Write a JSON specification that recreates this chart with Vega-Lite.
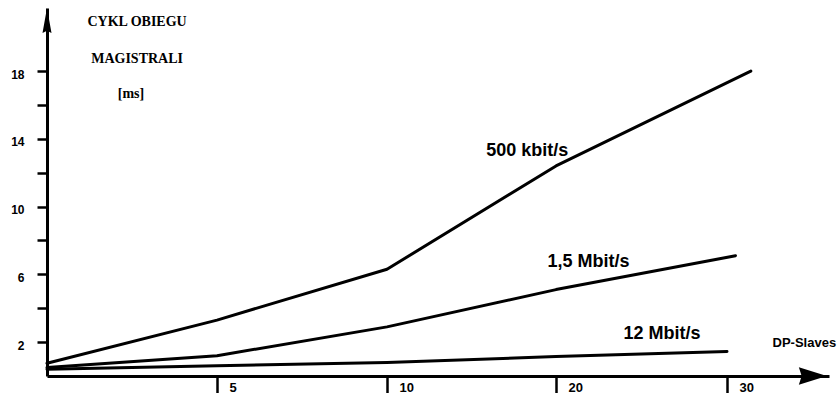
{
  "$schema": "https://vega.github.io/schema/vega-lite/v6.json",
  "width": 783,
  "height": 368,
  "autosize": {"type": "none"},
  "padding": {"left": 47, "top": 8, "right": 8, "bottom": 17},
  "background": "white",
  "config": {"view": {"stroke": null}},
  "datasets": {
    "lines": [
      {"n": 0, "t": 0.75, "series": "500 kbit/s"},
      {"n": 5, "t": 3.3, "series": "500 kbit/s"},
      {"n": 10, "t": 6.3, "series": "500 kbit/s"},
      {"n": 20, "t": 12.4, "series": "500 kbit/s"},
      {"n": 31.4, "t": 18.0, "series": "500 kbit/s"},
      {"n": 0, "t": 0.5, "series": "1,5 Mbit/s"},
      {"n": 5, "t": 1.2, "series": "1,5 Mbit/s"},
      {"n": 10, "t": 2.9, "series": "1,5 Mbit/s"},
      {"n": 20, "t": 5.1, "series": "1,5 Mbit/s"},
      {"n": 30.5, "t": 7.1, "series": "1,5 Mbit/s"},
      {"n": 0, "t": 0.4, "series": "12 Mbit/s"},
      {"n": 5, "t": 0.6, "series": "12 Mbit/s"},
      {"n": 10, "t": 0.8, "series": "12 Mbit/s"},
      {"n": 20, "t": 1.15, "series": "12 Mbit/s"},
      {"n": 30, "t": 1.45, "series": "12 Mbit/s"}
    ],
    "arrows": [
      {"n": 0, "t": 20.98, "dir": "up"},
      {"n": 35.05, "t": 0, "dir": "right"}
    ],
    "notes": [
      {"n": 2.65, "t": 20.9, "text": "CYKL OBIEGU", "role": "title"},
      {"n": 2.65, "t": 18.7, "text": "MAGISTRALI", "role": "title"},
      {"n": 2.47, "t": 16.65, "text": "[ms]", "role": "unit"},
      {"n": 18.3, "t": 13.3, "text": "500 kbit/s", "role": "series"},
      {"n": 21.9, "t": 6.7, "text": "1,5 Mbit/s", "role": "series"},
      {"n": 26.2, "t": 2.5, "text": "12 Mbit/s", "role": "series"},
      {"n": 34.55, "t": 1.95, "text": "DP-Slaves", "role": "axis"}
    ]
  },
  "layer": [
    {
      "data": {"name": "lines"},
      "mark": {"type": "line", "color": "black", "strokeCap": "round", "strokeJoin": "round"},
      "encoding": {
        "x": {
          "field": "n", "type": "quantitative",
          "scale": {"domain": [0, 5, 10, 20, 30, 36], "range": [0, 170, 340, 509, 680, 782], "nice": false, "zero": false},
          "axis": {
            "values": [5, 10, 20, 30], "title": null, "grid": false,
            "tickSize": 18, "tickWidth": 2.5, "tickColor": "black", "tickCap": "round",
            "domainColor": "black", "domainWidth": 3,
            "labelAlign": "left", "labelBaseline": "middle", "labelPadding": -7, "labelOffset": 12,
            "labelFont": "Liberation Sans", "labelFontWeight": "bold", "labelFontSize": 13, "labelColor": "black"
          }
        },
        "y": {
          "field": "t", "type": "quantitative",
          "scale": {"domain": [0, 21.72], "nice": false, "zero": false},
          "axis": {
            "values": [2, 4, 6, 8, 10, 12, 14, 16, 18], "title": null, "grid": false,
            "labelExpr": "datum.value % 4 == 2 ? datum.label : ''",
            "tickSize": 10, "tickWidth": 2.5, "tickColor": "black",
            "domainColor": "black", "domainWidth": 3,
            "labelPadding": 13, "labelOffset": 3,
            "labelFont": "Liberation Sans", "labelFontWeight": "bold", "labelFontSize": 12, "labelColor": "black"
          }
        },
        "detail": {"field": "series"},
        "strokeWidth": {
          "field": "series",
          "scale": {"domain": ["500 kbit/s", "1,5 Mbit/s", "12 Mbit/s"], "range": [3, 3, 2.2]},
          "legend": null
        }
      }
    },
    {
      "data": {"name": "arrows"},
      "mark": {"type": "point", "filled": true, "color": "black", "opacity": 1},
      "encoding": {
        "x": {"field": "n", "type": "quantitative"},
        "y": {"field": "t", "type": "quantitative"},
        "shape": {
          "field": "dir",
          "scale": {"domain": ["up", "right"], "range": ["M0,-1L0.36,1L0,0.82L-0.36,1Z", "M1,0L-1,-0.62L-0.8,0L-1,0.62Z"]},
          "legend": null
        },
        "size": {
          "field": "dir",
          "scale": {"domain": ["up", "right"], "range": [625, 784]},
          "legend": null
        }
      }
    },
    {
      "data": {"name": "notes"},
      "transform": [{"filter": "datum.role == 'title' || datum.role == 'unit'"}],
      "mark": {"type": "text", "font": "Liberation Serif", "fontWeight": "bold", "fontSize": 14, "color": "black", "baseline": "middle"},
      "encoding": {
        "x": {"field": "n", "type": "quantitative"},
        "y": {"field": "t", "type": "quantitative"},
        "text": {"field": "text"}
      }
    },
    {
      "data": {"name": "notes"},
      "transform": [{"filter": "datum.role == 'series'"}],
      "mark": {"type": "text", "font": "Liberation Sans", "fontWeight": "bold", "fontSize": 18, "color": "black", "baseline": "middle"},
      "encoding": {
        "x": {"field": "n", "type": "quantitative"},
        "y": {"field": "t", "type": "quantitative"},
        "text": {"field": "text"}
      }
    },
    {
      "data": {"name": "notes"},
      "transform": [{"filter": "datum.role == 'axis'"}],
      "mark": {"type": "text", "font": "Liberation Sans", "fontWeight": "bold", "fontSize": 13, "color": "black", "baseline": "middle"},
      "encoding": {
        "x": {"field": "n", "type": "quantitative"},
        "y": {"field": "t", "type": "quantitative"},
        "text": {"field": "text"}
      }
    }
  ]
}
